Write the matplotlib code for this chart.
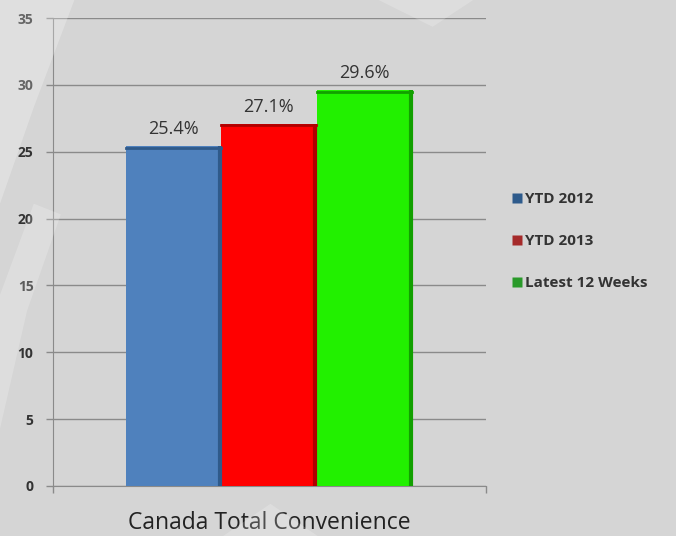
import matplotlib
matplotlib.use('Agg')
import matplotlib.pyplot as plt
from matplotlib.patches import Polygon
from matplotlib.lines import Line2D

category = 'Canada Total Convenience'
series = ['YTD 2012', 'YTD 2013', 'Latest 12 Weeks']
values = [25.4, 27.1, 29.6]
colors = ['#4f81bd', '#ff0000', '#22f000']
edges = ['#2f5a8a', '#b00000', '#12a000']
legend_colors = ['#2e5b8c', '#a52a2a', '#2a9a2a']
yticks = [0, 5, 10, 15, 20, 25, 30, 35]

plt.rcParams['font.family'] = ['Open Sans', 'DejaVu Sans']

fig = plt.figure(figsize=(6.76, 5.36), dpi=100, facecolor='#d5d5d5')

# faint lighter swooshes in the backdrop
for pts, a in [([(0.0, 0.62), (0.05, 0.80), (0.11, 1.0), (0.0, 1.0)], 0.25),
               ([(0.0, 0.20), (0.04, 0.42), (0.09, 0.60), (0.05, 0.62), (0.0, 0.45)], 0.2),
               ([(0.33, 0.0), (0.40, 0.06), (0.47, 0.0)], 0.2),
               ([(0.56, 1.0), (0.64, 0.95), (0.70, 1.0)], 0.2)]:
    fig.patches.append(Polygon(pts, closed=True, transform=fig.transFigure,
                               facecolor='white', alpha=a, edgecolor='none', zorder=0))

ax = fig.add_axes([0.0784, 0.0933, 0.640, 0.8731])
ax.set_facecolor('none')

centers = [0.2794, 0.4988, 0.7206]
width = 0.22
for c, v, col, ec in zip(centers, values, colors, edges):
    ax.bar(c, v, width, color=col, edgecolor='none', zorder=3)
    # darker right rim and top edge for a slight bevel
    ax.plot([c + width / 2 - 0.004] * 2, [0, v], color=ec, lw=3, zorder=4, solid_capstyle='butt')
    ax.plot([c - width / 2, c + width / 2], [v - 0.12] * 2, color=ec, lw=2, zorder=4)
    ax.text(c, v + 0.6, f'{v:.1f}%', ha='center', va='bottom', fontsize=13, color='#333333', zorder=5)

ax.set_xlim(0, 1)
ax.set_ylim(0, 35)
ax.set_yticks(yticks)
ax.set_yticklabels([str(t) for t in yticks], fontsize=10, color='#333333', fontweight='bold')
ax.set_xticks([0, 1])
ax.set_xticklabels([])
ax.tick_params(axis='both', direction='out', length=5, color='#8a8a8a', width=1)
ax.tick_params(axis='y', pad=9)
ax.grid(axis='y', color='#8a8a8a', lw=1, zorder=1)
for s in ('top', 'right'):
    ax.spines[s].set_visible(False)
for s in ('left', 'bottom'):
    ax.spines[s].set_color('#8a8a8a')
ax.text(0.5, -0.08, category, transform=ax.transAxes, ha='center', va='center',
        fontsize=16.5, color='#222222')

handles = [Line2D([0], [0], marker='s', ls='none', markersize=6.5, markerfacecolor=c,
                  markeredgecolor='none') for c in legend_colors]
fig.legend(handles, series, loc='center left', bbox_to_anchor=(0.733, 0.55),
           frameon=False, handletextpad=0.05, handlelength=1.0, labelspacing=1.85,
           prop={'size': 11, 'weight': 'bold'}, labelcolor='#333333')

fig.savefig('out.png', dpi=100, facecolor=fig.get_facecolor())
